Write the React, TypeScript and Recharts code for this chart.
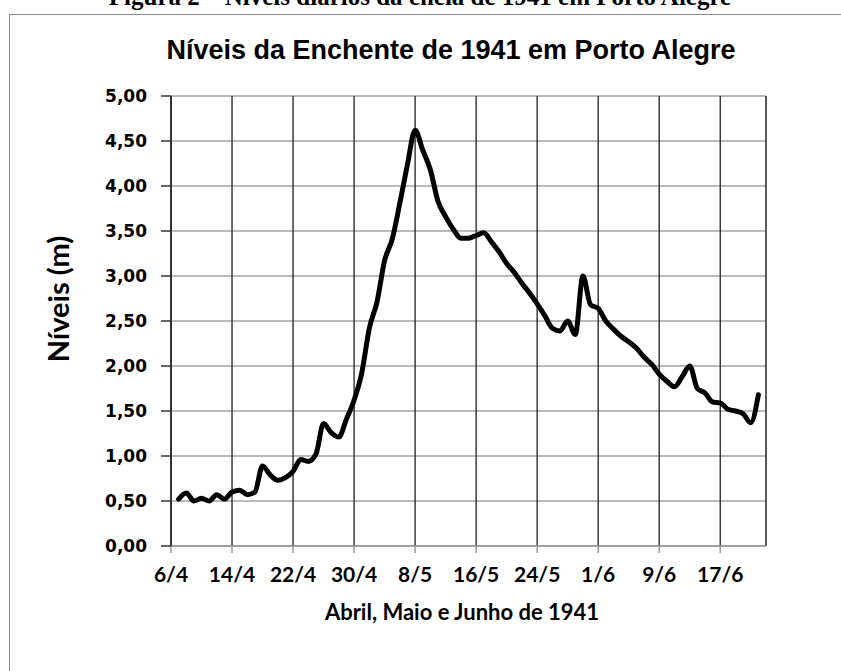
import React from "react";
import { LineChart, Line, XAxis, YAxis, CartesianGrid, ReferenceLine } from "recharts";

// dias contados a partir de 6/4/1941
const diasTicks = [0, 8, 16, 24, 32, 40, 48, 56, 64, 72];
const diasRotulos = ["6/4", "14/4", "22/4", "30/4", "8/5", "16/5", "24/5", "1/6", "9/6", "17/6"];
const niveisTicks = [0, 0.5, 1, 1.5, 2, 2.5, 3, 3.5, 4, 4.5, 5];

// níveis diários (m), de 7/4 a 22/6
const niveis = [
  0.52, 0.59, 0.5, 0.53, 0.5, 0.57, 0.52, 0.6, 0.62, 0.57,
  0.6, 0.89, 0.79, 0.73, 0.76, 0.83, 0.96, 0.94, 1.02, 1.36,
  1.26, 1.21, 1.41, 1.62, 1.92, 2.42, 2.71, 3.17, 3.41, 3.81,
  4.24, 4.62, 4.4, 4.18, 3.83, 3.66, 3.52, 3.42, 3.42, 3.45,
  3.48, 3.38, 3.27, 3.14, 3.04, 2.92, 2.81, 2.69, 2.56, 2.42,
  2.39, 2.5, 2.35, 3.0, 2.68, 2.64, 2.5, 2.41, 2.33, 2.27,
  2.2, 2.1, 2.02, 1.91, 1.83, 1.77, 1.88, 2.0, 1.75, 1.7,
  1.6, 1.59, 1.52, 1.5, 1.47, 1.37, 1.68,
];

const data = niveis.map((v, i) => ({ dia: i + 1, nivel: v }));

const fmtNivel = (v: number) => v.toFixed(2).replace(".", ",");
const fmtDia = (v: number) => diasRotulos[diasTicks.indexOf(v)] ?? "";

const App: React.FC = () => {
  return (
    <div style={{ position: "absolute", left: 0, top: 0, width: 841, height: 671, background: "#fff", overflow: "hidden" }}>
      <div
        style={{
          position: "absolute", left: 420 - 400, width: 800, top: -16, textAlign: "center",
          fontFamily: "Liberation Serif", fontWeight: "bold", fontSize: 25, lineHeight: "25px",
        }}
      >
        Figura 2 – Níveis diários da cheia de 1941 em Porto Alegre
      </div>
      <div style={{ position: "absolute", left: 9, top: 14, width: 900, height: 700, border: "1.5px solid #8a8a8a" }} />
      <div
        style={{
          position: "absolute", left: 451 - 400, width: 800, top: 35, textAlign: "center",
          fontFamily: "Liberation Sans", fontWeight: "bold", fontSize: 27, lineHeight: "30px",
        }}
      >
        Níveis da Enchente de 1941 em Porto Alegre
      </div>
      <LineChart
        width={841}
        height={671}
        data={data}
        margin={{ top: 96, right: 75, bottom: 95, left: 101 }}
        style={{ position: "absolute", left: 0, top: 0 }}
      >
        <CartesianGrid vertical={false} stroke="#a3a3a3" strokeWidth={1.5} />
        <CartesianGrid horizontal={false} stroke="#1e1e1e" strokeWidth={1.3} />
        <ReferenceLine x={78} stroke="#555" strokeWidth={1.5} />
        <XAxis
          dataKey="dia"
          type="number"
          domain={[0, 78]}
          ticks={diasTicks}
          tickFormatter={fmtDia}
          height={30}
          tickSize={7}
          tickMargin={14}
          axisLine={{ stroke: "#999", strokeWidth: 1.5 }}
          tickLine={{ stroke: "#999", strokeWidth: 1.5 }}
          tick={{ fill: "#000", fontFamily: "Lato", fontWeight: "bold", fontSize: 21 }}
        />
        <YAxis
          type="number"
          domain={[0, 5]}
          ticks={niveisTicks}
          tickFormatter={fmtNivel}
          width={70}
          tickSize={10}
          tickMargin={14}
          axisLine={{ stroke: "#222", strokeWidth: 1.5 }}
          tickLine={{ stroke: "#333", strokeWidth: 1.5 }}
          tick={{ fill: "#000", fontFamily: "DejaVu Sans", fontWeight: "bold", fontSize: 17 }}
        />
        <Line
          type="monotone"
          dataKey="nivel"
          stroke="#000"
          strokeWidth={5}
          strokeLinecap="round"
          strokeLinejoin="round"
          dot={false}
          isAnimationActive={false}
        />
      </LineChart>
      <div
        style={{
          position: "absolute", left: 58 - 100, top: 299 - 17, width: 200, height: 34, lineHeight: "34px",
          textAlign: "center", transform: "rotate(-90deg)",
          fontFamily: "Lato", fontWeight: "bold", fontSize: 29,
        }}
      >
        Níveis (m)
      </div>
      <div
        style={{
          position: "absolute", left: 462 - 200, top: 597, width: 400, textAlign: "center",
          fontFamily: "Lato", fontWeight: "bold", fontSize: 22, lineHeight: "30px",
        }}
      >
        Abril, Maio e Junho de 1941
      </div>
    </div>
  );
};

export default App;
